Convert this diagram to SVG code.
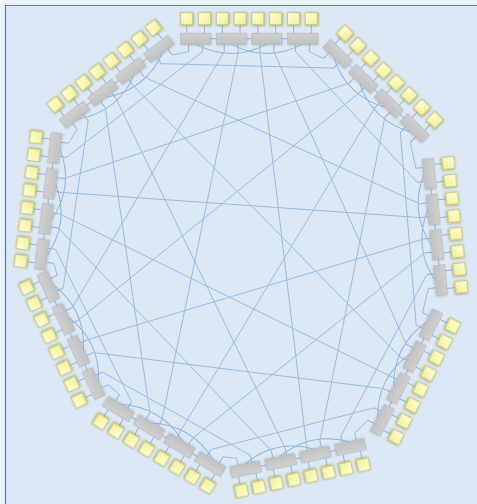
<svg xmlns="http://www.w3.org/2000/svg" width="477" height="504" viewBox="0 0 477 504">
<defs>
<linearGradient id="yg" x1="0" y1="0" x2="1" y2="1">
<stop offset="0" stop-color="#ffffd8"/>
<stop offset="1" stop-color="#f2ee96"/>
</linearGradient>
<linearGradient id="gg" x1="0" y1="0" x2="0" y2="1">
<stop offset="0" stop-color="#d0d0d0"/>
<stop offset="1" stop-color="#c2c2c2"/>
</linearGradient>
<filter id="glow" x="-50%" y="-50%" width="200%" height="200%">
<feDropShadow dx="0.6" dy="0.6" stdDeviation="1" flood-color="#8f8f30" flood-opacity="0.75"/>
</filter>
<filter id="sh" x="-20%" y="-50%" width="140%" height="200%">
<feDropShadow dx="0.8" dy="0.8" stdDeviation="0.8" flood-color="#8090a0" flood-opacity="0.4"/>
</filter>
</defs>
<style>
.box{fill:url(#yg);stroke:#c9c986;stroke-width:1;filter:url(#glow)}
.bar{fill:url(#gg);stroke:#b8b8b8;stroke-width:0.6;filter:url(#sh)}
.ln{fill:none;stroke:#9bbde2;stroke-width:1}
.lk{fill:none;stroke:#8fb5de;stroke-width:1}
</style>
<rect x="0" y="0" width="477" height="504" fill="#edf2f9"/>
<rect x="5" y="5" width="472" height="499" fill="#dce8f5"/>
<path d="M5.5 504V5.5H477" fill="none" stroke="#5b7db3" stroke-width="1.2"/>

<g id="connectors">
<g id="local-links">
<g transform="translate(249,38.7)"><path class="lk" d="M-68.4 0H68.4M-62.3 -14V-5.5M-44.5 -14V-5.5M-26.7 -14V-5.5M-8.9 -14V-5.5M8.9 -14V-5.5M26.7 -14V-5.5M44.5 -14V-5.5M62.3 -14V-5.5M-60.4 5.5V13M-46.4 5.5V13M-24.8 5.5V13M-10.8 5.5V13M10.8 5.5V13M24.8 5.5V13M46.4 5.5V13M60.4 5.5V13M-53.4 5.5Q-17.8 24 17.8 5.5M-17.8 5.5Q17.8 24 53.4 5.5"/></g>
<g transform="translate(376,91) rotate(44)"><path class="lk" d="M-68.4 0H68.4M-62.3 -14V-5.5M-44.5 -14V-5.5M-26.7 -14V-5.5M-8.9 -14V-5.5M8.9 -14V-5.5M26.7 -14V-5.5M44.5 -14V-5.5M62.3 -14V-5.5M-60.4 5.5V13M-46.4 5.5V13M-24.8 5.5V13M-10.8 5.5V13M10.8 5.5V13M24.8 5.5V13M46.4 5.5V13M60.4 5.5V13M-53.4 5.5Q-17.8 24 17.8 5.5M-17.8 5.5Q17.8 24 53.4 5.5"/></g>
<g transform="translate(435,227) rotate(84)"><path class="lk" d="M-68.4 0H68.4M-62.3 -14V-5.5M-44.5 -14V-5.5M-26.7 -14V-5.5M-8.9 -14V-5.5M8.9 -14V-5.5M26.7 -14V-5.5M44.5 -14V-5.5M62.3 -14V-5.5M-60.4 5.5V13M-46.4 5.5V13M-24.8 5.5V13M-10.8 5.5V13M10.8 5.5V13M24.8 5.5V13M46.4 5.5V13M60.4 5.5V13M-53.4 5.5Q-17.8 24 17.8 5.5M-17.8 5.5Q17.8 24 53.4 5.5"/></g>
<g transform="translate(406.7,372.4) rotate(117)"><path class="lk" d="M-68.4 0H68.4M-62.3 -14V-5.5M-44.5 -14V-5.5M-26.7 -14V-5.5M-8.9 -14V-5.5M8.9 -14V-5.5M26.7 -14V-5.5M44.5 -14V-5.5M62.3 -14V-5.5M-60.4 5.5V13M-46.4 5.5V13M-24.8 5.5V13M-10.8 5.5V13M10.8 5.5V13M24.8 5.5V13M46.4 5.5V13M60.4 5.5V13M-53.4 5.5Q-17.8 24 17.8 5.5M-17.8 5.5Q17.8 24 53.4 5.5"/></g>
<g transform="translate(298.3,458.3) rotate(168)"><path class="lk" d="M-68.4 0H68.4M-62.3 -14V-5.5M-44.5 -14V-5.5M-26.7 -14V-5.5M-8.9 -14V-5.5M8.9 -14V-5.5M26.7 -14V-5.5M44.5 -14V-5.5M62.3 -14V-5.5M-60.4 5.5V13M-46.4 5.5V13M-24.8 5.5V13M-10.8 5.5V13M10.8 5.5V13M24.8 5.5V13M46.4 5.5V13M60.4 5.5V13M-53.4 5.5Q-17.8 24 17.8 5.5M-17.8 5.5Q17.8 24 53.4 5.5"/></g>
<g transform="translate(164.5,436.8) rotate(211)"><path class="lk" d="M-68.4 0H68.4M-62.3 -14V-5.5M-44.5 -14V-5.5M-26.7 -14V-5.5M-8.9 -14V-5.5M8.9 -14V-5.5M26.7 -14V-5.5M44.5 -14V-5.5M62.3 -14V-5.5M-60.4 5.5V13M-46.4 5.5V13M-24.8 5.5V13M-10.8 5.5V13M10.8 5.5V13M24.8 5.5V13M46.4 5.5V13M60.4 5.5V13M-53.4 5.5Q-17.8 24 17.8 5.5M-17.8 5.5Q17.8 24 53.4 5.5"/></g>
<g transform="translate(71,335.5) rotate(245)"><path class="lk" d="M-68.4 0H68.4M-62.3 -14V-5.5M-44.5 -14V-5.5M-26.7 -14V-5.5M-8.9 -14V-5.5M8.9 -14V-5.5M26.7 -14V-5.5M44.5 -14V-5.5M62.3 -14V-5.5M-60.4 5.5V13M-46.4 5.5V13M-24.8 5.5V13M-10.8 5.5V13M10.8 5.5V13M24.8 5.5V13M46.4 5.5V13M60.4 5.5V13M-53.4 5.5Q-17.8 24 17.8 5.5M-17.8 5.5Q17.8 24 53.4 5.5"/></g>
<g transform="translate(48.2,201.6) rotate(277)"><path class="lk" d="M-68.4 0H68.4M-62.3 -14V-5.5M-44.5 -14V-5.5M-26.7 -14V-5.5M-8.9 -14V-5.5M8.9 -14V-5.5M26.7 -14V-5.5M44.5 -14V-5.5M62.3 -14V-5.5M-60.4 5.5V13M-46.4 5.5V13M-24.8 5.5V13M-10.8 5.5V13M10.8 5.5V13M24.8 5.5V13M46.4 5.5V13M60.4 5.5V13M-53.4 5.5Q-17.8 24 17.8 5.5M-17.8 5.5Q17.8 24 53.4 5.5"/></g>
<g transform="translate(116.7,82) rotate(322)"><path class="lk" d="M-68.4 0H68.4M-62.3 -14V-5.5M-44.5 -14V-5.5M-26.7 -14V-5.5M-8.9 -14V-5.5M8.9 -14V-5.5M26.7 -14V-5.5M44.5 -14V-5.5M62.3 -14V-5.5M-60.4 5.5V13M-46.4 5.5V13M-24.8 5.5V13M-10.8 5.5V13M10.8 5.5V13M24.8 5.5V13M46.4 5.5V13M60.4 5.5V13M-53.4 5.5Q-17.8 24 17.8 5.5M-17.8 5.5Q17.8 24 53.4 5.5"/></g>
</g>
<g id="long-links" class="ln">
<path d="M309.4 51.7L323.52 58.39"/>
<path d="M410.42 142.31L415.76 168.29"/>
<path d="M428.38 288.43L422.54 312.68"/>
<path d="M367.7 420.32L354.68 433.02"/>
<path d="M236.52 458.14L222.98 456.77"/>
<path d="M119.42 394.55L108.31 384.75"/>
<path d="M57.25 275.27L53.74 263.13"/>
<path d="M68.46 143.23L77.1 129.43"/>
<path d="M172.3 55.05L188.6 51.7"/>
<path d="M295.4 51.7L417.22 182.22"/>
<path d="M400.35 132.58L416.19 325.16"/>
<path d="M426.92 274.5L340.98 435.93"/>
<path d="M374.05 407.84L210.97 449.56"/>
<path d="M250.22 455.23L102.39 372.06"/>
<path d="M131.43 401.76L55.44 249.23"/>
<path d="M63.17 287.96L88.14 120.81"/>
<path d="M66.76 157.13L202.6 51.7"/>
<path d="M161.26 63.67L333.59 68.12"/>
<path d="M273.8 51.7L406.38 344.4"/>
<path d="M384.81 117.58L319.86 440.42"/>
<path d="M424.66 253.02L192.46 438.43"/>
<path d="M383.86 388.6L93.26 352.49"/>
<path d="M271.34 450.74L58.08 227.79"/>
<path d="M149.94 412.89L105.16 107.51"/>
<path d="M72.3 307.53L224.2 51.7"/>
<path d="M64.12 178.57L349.13 83.12"/>
<path d="M144.24 76.97L419.48 203.7"/>
<path d="M259.8 51.7L306.16 443.33"/>
<path d="M374.74 107.85L180.46 431.22"/>
<path d="M423.2 239.1L87.34 339.8"/>
<path d="M390.22 376.12L59.78 213.9"/>
<path d="M285.04 447.83L116.19 98.89"/>
<path d="M161.94 420.1L238.2 51.7"/>
<path d="M78.22 320.22L359.2 92.85"/>
<path d="M62.42 192.46L420.94 217.62"/>
<path d="M133.21 85.59L400.02 356.88"/>
</g>
</g>

<g id="g1" transform="translate(249,38.7)">
<rect class="bar" x="-68.4" y="-5.5" width="30" height="11"/><rect class="bar" x="-32.8" y="-5.5" width="30" height="11"/><rect class="bar" x="2.8" y="-5.5" width="30" height="11"/><rect class="bar" x="38.4" y="-5.5" width="30" height="11"/>
<rect class="box" x="-68.3" y="-26" width="12" height="12"/><rect class="box" x="-50.5" y="-26" width="12" height="12"/><rect class="box" x="-32.7" y="-26" width="12" height="12"/><rect class="box" x="-14.9" y="-26" width="12" height="12"/><rect class="box" x="2.9" y="-26" width="12" height="12"/><rect class="box" x="20.7" y="-26" width="12" height="12"/><rect class="box" x="38.5" y="-26" width="12" height="12"/><rect class="box" x="56.3" y="-26" width="12" height="12"/>
</g>
<g id="g2" transform="translate(376,91) rotate(44)">
<rect class="bar" x="-68.4" y="-5.5" width="30" height="11"/><rect class="bar" x="-32.8" y="-5.5" width="30" height="11"/><rect class="bar" x="2.8" y="-5.5" width="30" height="11"/><rect class="bar" x="38.4" y="-5.5" width="30" height="11"/>
<rect class="box" x="-68.3" y="-26" width="12" height="12"/><rect class="box" x="-50.5" y="-26" width="12" height="12"/><rect class="box" x="-32.7" y="-26" width="12" height="12"/><rect class="box" x="-14.9" y="-26" width="12" height="12"/><rect class="box" x="2.9" y="-26" width="12" height="12"/><rect class="box" x="20.7" y="-26" width="12" height="12"/><rect class="box" x="38.5" y="-26" width="12" height="12"/><rect class="box" x="56.3" y="-26" width="12" height="12"/>
</g>
<g id="g3" transform="translate(435,227) rotate(84)">
<rect class="bar" x="-68.4" y="-5.5" width="30" height="11"/><rect class="bar" x="-32.8" y="-5.5" width="30" height="11"/><rect class="bar" x="2.8" y="-5.5" width="30" height="11"/><rect class="bar" x="38.4" y="-5.5" width="30" height="11"/>
<rect class="box" x="-68.3" y="-26" width="12" height="12"/><rect class="box" x="-50.5" y="-26" width="12" height="12"/><rect class="box" x="-32.7" y="-26" width="12" height="12"/><rect class="box" x="-14.9" y="-26" width="12" height="12"/><rect class="box" x="2.9" y="-26" width="12" height="12"/><rect class="box" x="20.7" y="-26" width="12" height="12"/><rect class="box" x="38.5" y="-26" width="12" height="12"/><rect class="box" x="56.3" y="-26" width="12" height="12"/>
</g>
<g id="g4" transform="translate(406.7,372.4) rotate(117)">
<rect class="bar" x="-68.4" y="-5.5" width="30" height="11"/><rect class="bar" x="-32.8" y="-5.5" width="30" height="11"/><rect class="bar" x="2.8" y="-5.5" width="30" height="11"/><rect class="bar" x="38.4" y="-5.5" width="30" height="11"/>
<rect class="box" x="-68.3" y="-26" width="12" height="12"/><rect class="box" x="-50.5" y="-26" width="12" height="12"/><rect class="box" x="-32.7" y="-26" width="12" height="12"/><rect class="box" x="-14.9" y="-26" width="12" height="12"/><rect class="box" x="2.9" y="-26" width="12" height="12"/><rect class="box" x="20.7" y="-26" width="12" height="12"/><rect class="box" x="38.5" y="-26" width="12" height="12"/><rect class="box" x="56.3" y="-26" width="12" height="12"/>
</g>
<g id="g5" transform="translate(298.3,458.3) rotate(168)">
<rect class="bar" x="-68.4" y="-5.5" width="30" height="11"/><rect class="bar" x="-32.8" y="-5.5" width="30" height="11"/><rect class="bar" x="2.8" y="-5.5" width="30" height="11"/><rect class="bar" x="38.4" y="-5.5" width="30" height="11"/>
<rect class="box" x="-68.3" y="-26" width="12" height="12"/><rect class="box" x="-50.5" y="-26" width="12" height="12"/><rect class="box" x="-32.7" y="-26" width="12" height="12"/><rect class="box" x="-14.9" y="-26" width="12" height="12"/><rect class="box" x="2.9" y="-26" width="12" height="12"/><rect class="box" x="20.7" y="-26" width="12" height="12"/><rect class="box" x="38.5" y="-26" width="12" height="12"/><rect class="box" x="56.3" y="-26" width="12" height="12"/>
</g>
<g id="g6" transform="translate(164.5,436.8) rotate(211)">
<rect class="bar" x="-68.4" y="-5.5" width="30" height="11"/><rect class="bar" x="-32.8" y="-5.5" width="30" height="11"/><rect class="bar" x="2.8" y="-5.5" width="30" height="11"/><rect class="bar" x="38.4" y="-5.5" width="30" height="11"/>
<rect class="box" x="-68.3" y="-26" width="12" height="12"/><rect class="box" x="-50.5" y="-26" width="12" height="12"/><rect class="box" x="-32.7" y="-26" width="12" height="12"/><rect class="box" x="-14.9" y="-26" width="12" height="12"/><rect class="box" x="2.9" y="-26" width="12" height="12"/><rect class="box" x="20.7" y="-26" width="12" height="12"/><rect class="box" x="38.5" y="-26" width="12" height="12"/><rect class="box" x="56.3" y="-26" width="12" height="12"/>
</g>
<g id="g7" transform="translate(71,335.5) rotate(245)">
<rect class="bar" x="-68.4" y="-5.5" width="30" height="11"/><rect class="bar" x="-32.8" y="-5.5" width="30" height="11"/><rect class="bar" x="2.8" y="-5.5" width="30" height="11"/><rect class="bar" x="38.4" y="-5.5" width="30" height="11"/>
<rect class="box" x="-68.3" y="-26" width="12" height="12"/><rect class="box" x="-50.5" y="-26" width="12" height="12"/><rect class="box" x="-32.7" y="-26" width="12" height="12"/><rect class="box" x="-14.9" y="-26" width="12" height="12"/><rect class="box" x="2.9" y="-26" width="12" height="12"/><rect class="box" x="20.7" y="-26" width="12" height="12"/><rect class="box" x="38.5" y="-26" width="12" height="12"/><rect class="box" x="56.3" y="-26" width="12" height="12"/>
</g>
<g id="g8" transform="translate(48.2,201.6) rotate(277)">
<rect class="bar" x="-68.4" y="-5.5" width="30" height="11"/><rect class="bar" x="-32.8" y="-5.5" width="30" height="11"/><rect class="bar" x="2.8" y="-5.5" width="30" height="11"/><rect class="bar" x="38.4" y="-5.5" width="30" height="11"/>
<rect class="box" x="-68.3" y="-26" width="12" height="12"/><rect class="box" x="-50.5" y="-26" width="12" height="12"/><rect class="box" x="-32.7" y="-26" width="12" height="12"/><rect class="box" x="-14.9" y="-26" width="12" height="12"/><rect class="box" x="2.9" y="-26" width="12" height="12"/><rect class="box" x="20.7" y="-26" width="12" height="12"/><rect class="box" x="38.5" y="-26" width="12" height="12"/><rect class="box" x="56.3" y="-26" width="12" height="12"/>
</g>
<g id="g9" transform="translate(116.7,82) rotate(322)">
<rect class="bar" x="-68.4" y="-5.5" width="30" height="11"/><rect class="bar" x="-32.8" y="-5.5" width="30" height="11"/><rect class="bar" x="2.8" y="-5.5" width="30" height="11"/><rect class="bar" x="38.4" y="-5.5" width="30" height="11"/>
<rect class="box" x="-68.3" y="-26" width="12" height="12"/><rect class="box" x="-50.5" y="-26" width="12" height="12"/><rect class="box" x="-32.7" y="-26" width="12" height="12"/><rect class="box" x="-14.9" y="-26" width="12" height="12"/><rect class="box" x="2.9" y="-26" width="12" height="12"/><rect class="box" x="20.7" y="-26" width="12" height="12"/><rect class="box" x="38.5" y="-26" width="12" height="12"/><rect class="box" x="56.3" y="-26" width="12" height="12"/>
</g>
</svg>
